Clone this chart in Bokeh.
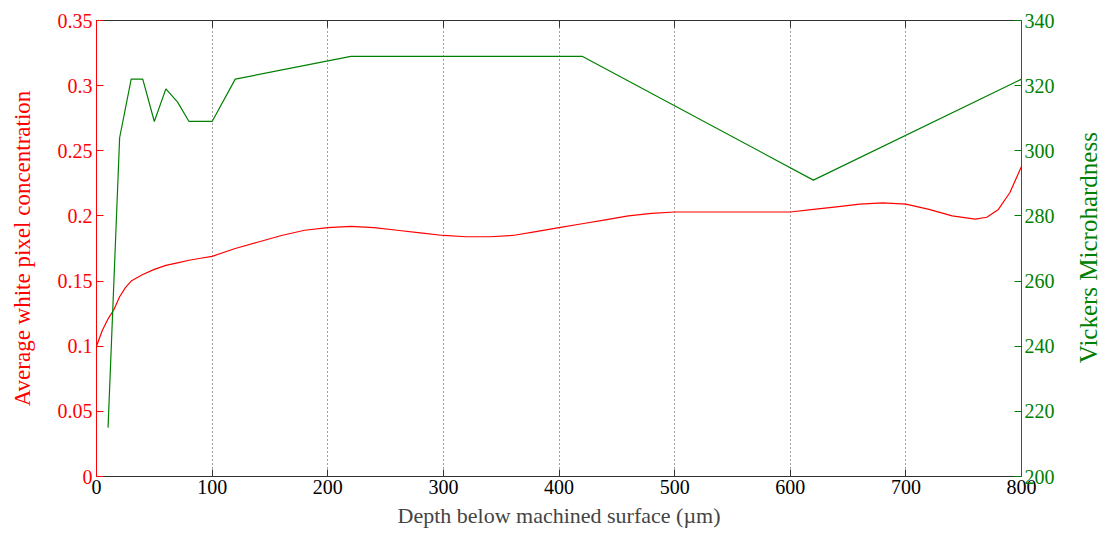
import math
from bokeh.plotting import figure
from bokeh.models import Range1d, LinearAxis, FixedTicker, Label
from bokeh.layouts import row
from bokeh.embed import file_html
from bokeh.resources import INLINE

# Hardness (Vickers) vs depth
hv_depth = [10, 20, 30, 40, 50, 60, 70, 80, 100, 120, 220, 420, 620, 800]
hv_value = [215, 304, 322, 322, 309, 319, 315, 309, 309, 322, 329, 329, 291, 322]

# Average white pixel concentration vs depth
wp_depth = [0, 5, 10, 15, 20, 25, 30, 40, 50, 60, 70, 80, 90, 100, 120, 140, 160,
            180, 200, 220, 240, 260, 280, 300, 320, 340, 360, 380, 400, 420, 440,
            460, 480, 500, 520, 540, 560, 580, 600, 620, 640, 660, 680, 700, 720,
            740, 760, 770, 780, 790, 800]
wp_value = [0.100, 0.112, 0.121, 0.128, 0.138, 0.145, 0.150, 0.155, 0.159, 0.162,
            0.164, 0.166, 0.1675, 0.169, 0.175, 0.180, 0.185, 0.189, 0.191, 0.192,
            0.191, 0.189, 0.187, 0.185, 0.184, 0.184, 0.185, 0.188, 0.191, 0.194,
            0.197, 0.200, 0.202, 0.203, 0.203, 0.203, 0.203, 0.203, 0.203, 0.205,
            0.207, 0.209, 0.210, 0.209, 0.205, 0.200, 0.1975, 0.199, 0.205, 0.218,
            0.238]

x_ticks = [0, 100, 200, 300, 400, 500, 600, 700, 800]
left_ticks = [0, 0.05, 0.1, 0.15, 0.2, 0.25, 0.3, 0.35]
left_tick_labels = ["0", "0.05", "0.1", "0.15", "0.2", "0.25", "0.3", "0.35"]
right_ticks = [200, 220, 240, 260, 280, 300, 320, 340]
right_title = "Vickers Microhardness"

RED = "#ff0000"
GREEN = "#008000"
FONT = "Liberation Serif"
TICK_FS = "20px"
TITLE_FS = "22px"
H = 530

p = figure(width=1076, height=H, x_range=Range1d(0, 800), y_range=Range1d(0, 0.35),
           output_backend="svg", toolbar_location=None,
           min_border_left=96, min_border_right=55, min_border_top=20, min_border_bottom=51)
p.extra_y_ranges = {"right": Range1d(200, 340)}
p.outline_line_color = None
p.background_fill_color = "white"
p.border_fill_color = "white"

# grid
p.ygrid.grid_line_color = None
p.xgrid.ticker = FixedTicker(ticks=x_ticks[1:-1])
p.xgrid.grid_line_color = "#444444"
p.xgrid.grid_line_dash = "1 3"
p.xgrid.grid_line_width = 1

# bottom axis
xa = p.xaxis[0]
xa.ticker = FixedTicker(ticks=x_ticks)
xa.axis_label = "Depth below machined surface (\u00b5m)"
xa.axis_line_color = "#333333"
xa.major_tick_line_color = "#333333"
xa.major_tick_in = 7
xa.major_tick_out = 0
xa.minor_tick_line_color = None
xa.major_label_text_font = FONT
xa.major_label_text_font_size = TICK_FS
xa.major_label_text_color = "black"
xa.axis_label_text_font = FONT
xa.axis_label_text_font_size = TITLE_FS
xa.axis_label_text_font_style = "normal"
xa.axis_label_standoff = 6
xa.major_label_standoff = 3

# top axis (no labels)
ta = LinearAxis(ticker=FixedTicker(ticks=x_ticks), axis_line_color="#333333",
                major_tick_line_color="#333333", major_tick_in=7, major_tick_out=0,
                minor_tick_line_color=None, major_label_text_font_size="0px",
                major_label_text_alpha=0)
p.add_layout(ta, "above")

# left axis
ya = p.yaxis[0]
ya.ticker = FixedTicker(ticks=left_ticks)
ya.major_label_overrides = {t: l for t, l in zip(left_ticks, left_tick_labels)}
ya.axis_label = "Average white pixel concentration"
ya.axis_line_color = RED
ya.major_tick_line_color = RED
ya.major_tick_in = 7
ya.major_tick_out = 0
ya.minor_tick_line_color = None
ya.major_label_text_font = FONT
ya.major_label_text_font_size = TICK_FS
ya.major_label_text_color = RED
ya.axis_label_text_font = FONT
ya.axis_label_text_font_size = "23px"
ya.axis_label_text_font_style = "normal"
ya.axis_label_text_color = RED
ya.axis_label_standoff = 20
ya.major_label_standoff = 4

# right axis
ra = LinearAxis(y_range_name="right", ticker=FixedTicker(ticks=right_ticks),
                axis_line_color=GREEN, major_tick_line_color=GREEN,
                major_tick_in=7, major_tick_out=0, minor_tick_line_color=None,
                major_label_text_font=FONT, major_label_text_font_size=TICK_FS,
                major_label_text_color=GREEN, major_label_standoff=3)
p.add_layout(ra, "right")

# data lines
p.line(wp_depth, wp_value, line_color=RED, line_width=1.2)
p.line(hv_depth, hv_value, line_color=GREEN, line_width=1.2, y_range_name="right")

# narrow panel holding the right-axis title, reading bottom-to-top
t = figure(width=26, height=H, x_range=Range1d(0, 1), y_range=Range1d(0, H),
           output_backend="svg", toolbar_location=None,
           x_axis_location=None, y_axis_location=None,
           min_border_left=0, min_border_right=0, min_border_top=0, min_border_bottom=0)
t.outline_line_color = None
t.xgrid.grid_line_color = None
t.ygrid.grid_line_color = None
t.add_layout(Label(x=0.45, y=H - 264, text=right_title, angle=math.pi / 2,
                   text_align="center", text_baseline="middle",
                   text_font=FONT, text_font_size="25px", text_color=GREEN))

layout = row(p, t)
open("out.html", "w").write(file_html(layout, INLINE))
